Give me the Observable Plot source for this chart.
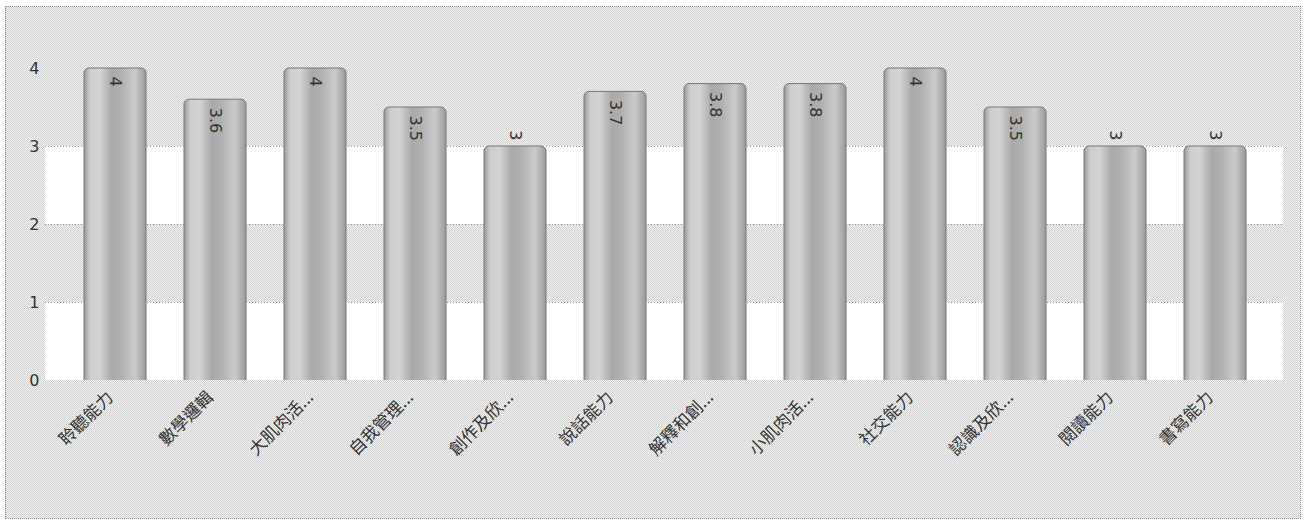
<!DOCTYPE html>
<html><head><meta charset="utf-8">
<script src="https://cdn.jsdelivr.net/npm/d3@7"></script>
<script src="https://cdn.jsdelivr.net/npm/@observablehq/plot@0.6"></script>
<style>
body{margin:0;background:#fff;}
#box{position:absolute;left:5px;top:6px;width:1294px;height:511px;border:1px dotted #8a8a8a;background:repeating-conic-gradient(#d0d0d0 0 25%, #f3f3f3 0 50%) 0 0/2px 2px;}
#box svg{display:block;}
</style></head><body><div id="box"></div>
<script>
const categories = ["聆聽能力","數學邏輯","大肌肉活...","自我管理...","創作及欣...","說話能力","解釋和創...","小肌肉活...","社交能力","認識及欣...","閱讀能力","書寫能力"];
const values = [4, 3.6, 4, 3.5, 3, 3.7, 3.8, 3.8, 4, 3.5, 3, 3];
const yTicks = [0, 1, 2, 3, 4];
const whiteBands = [[0, 1], [2, 3]];
const gridLines = [1, 2, 3];

const data = categories.map((c, i) => ({c, v: values[i]}));

const chart = Plot.plot({
  width: 1294, height: 511,
  marginLeft: 39, marginRight: 17, marginTop: 22, marginBottom: 138,
  style: {background: "transparent", fontFamily: "DejaVu Sans", overflow: "visible"},
  x: {domain: categories, paddingInner: 0.38, paddingOuter: 0.19, insetLeft: 18, insetRight: 17, axis: null},
  y: {domain: [0, 4.5], axis: null},
  marks: [
    Plot.rect(whiteBands, {y1: d => d[0], y2: d => d[1], fill: "white"}),
    Plot.ruleY(gridLines, {stroke: "#999", strokeDasharray: "1,2"}),
    Plot.axisY(yTicks, {tickSize: 0, tickPadding: 6, fontSize: 16, fill: "#333", tickFormat: d => String(d), label: null}),
    Plot.barY(data, {x: "c", y1: () => -0.2, y2: "v", fill: "url(#barGrad)", stroke: "#777", strokeWidth: 1, rx: 5, clip: "frame"}),
    Plot.text(data.filter(d => d.v > 3), {x: "c", y: "v", text: d => String(d.v), rotate: 90, textAnchor: "start", lineAnchor: "middle", dy: 8, fontSize: 16, fill: "#333"}),
    Plot.text(data.filter(d => d.v <= 3), {x: "c", y: "v", text: d => String(d.v), rotate: 90, textAnchor: "end", lineAnchor: "middle", dy: -6, fontSize: 16, fill: "#333"}),
    Plot.text(categories, {x: d => d, y: () => 0, text: d => d, rotate: -45, textAnchor: "end", lineAnchor: "middle", dx: -5, dy: 14, fontSize: 17, fill: "#333", fontFamily: "Noto Sans CJK TC"})
  ]
});

const ns = "http://www.w3.org/2000/svg";
const defs = document.createElementNS(ns, "defs");
defs.innerHTML = `<linearGradient id="barGrad" x1="0" x2="1" y1="0" y2="0">
  <stop offset="0" stop-color="#9a9a9a"/>
  <stop offset="0.1" stop-color="#cdcdcd"/>
  <stop offset="0.25" stop-color="#d4d4d4"/>
  <stop offset="0.45" stop-color="#a9a9a9"/>
  <stop offset="0.6" stop-color="#b0b0b0"/>
  <stop offset="0.82" stop-color="#cbcbcb"/>
  <stop offset="1" stop-color="#999"/>
</linearGradient>`;
chart.insertBefore(defs, chart.firstChild);
document.getElementById("box").appendChild(chart);
</script>
</body></html>
